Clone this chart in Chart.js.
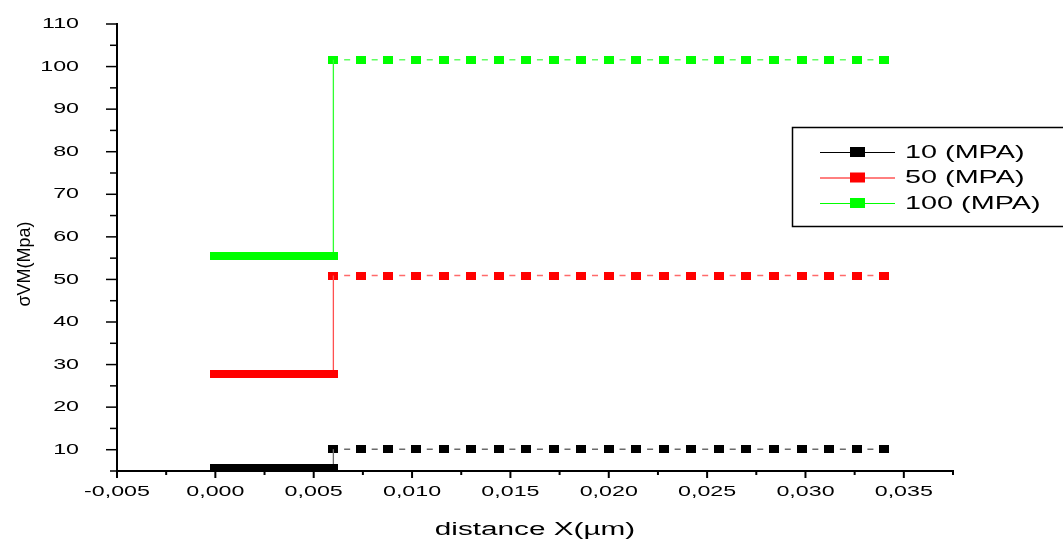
<!DOCTYPE html>
<html>
<head>
<meta charset="utf-8">
<script src="https://cdn.jsdelivr.net/npm/chart.js@4.4.1/dist/chart.umd.min.js"></script>
<style>
html, body { margin: 0; padding: 0; background: #fff; }
#wrap { width: 1063px; height: 543px; }
</style>
</head>
<body>
<div id="wrap"><canvas id="stressChart" width="1063" height="543"></canvas></div>
<script>
// positions along the sample (µm)
const xLeft = [0, 0.0005, 0.001, 0.0015, 0.002, 0.0025, 0.003, 0.0035, 0.004, 0.0045, 0.005, 0.0055, 0.006];
const xRight = [0.006, 0.0074, 0.0088, 0.0102, 0.0116, 0.013, 0.0144, 0.0158, 0.0172, 0.0186, 0.02,
                0.0214, 0.0228, 0.0242, 0.0256, 0.027, 0.0284, 0.0298, 0.0312, 0.0326, 0.034];

// von Mises stress (MPa), left zone then right zone
const s10Left = [5.6, 5.6, 5.6, 5.6, 5.6, 5.6, 5.6, 5.6, 5.6, 5.6, 5.6, 5.6, 5.6];
const s10Right = [10.1, 10.1, 10.1, 10.1, 10.1, 10.1, 10.1, 10.1, 10.1, 10.1, 10.1,
                  10.1, 10.1, 10.1, 10.1, 10.1, 10.1, 10.1, 10.1, 10.1, 10.1];
const s50Left = [27.9, 27.9, 27.9, 27.9, 27.9, 27.9, 27.9, 27.9, 27.9, 27.9, 27.9, 27.9, 27.9];
const s50Right = [50.9, 50.9, 50.9, 50.9, 50.9, 50.9, 50.9, 50.9, 50.9, 50.9, 50.9,
                  50.9, 50.9, 50.9, 50.9, 50.9, 50.9, 50.9, 50.9, 50.9, 50.9];
const s100Left = [55.5, 55.5, 55.5, 55.5, 55.5, 55.5, 55.5, 55.5, 55.5, 55.5, 55.5, 55.5, 55.5];
const s100Right = [101.6, 101.6, 101.6, 101.6, 101.6, 101.6, 101.6, 101.6, 101.6, 101.6, 101.6,
                   101.6, 101.6, 101.6, 101.6, 101.6, 101.6, 101.6, 101.6, 101.6, 101.6];

const seriesNames = ['10 (MPA)', '50 (MPA)', '100 (MPA)'];
const seriesColors = ['#000000', '#ff0000', '#00ff00'];
const stepColors = ['#707070', '#ff5050', '#30ff30'];
const dashColors = ['#6a6a6a', '#ff6a6a', '#60ff60'];

// axis ticks
const yTicks = [10, 20, 30, 40, 50, 60, 70, 80, 90, 100, 110];
const yMinor = [5, 15, 25, 35, 45, 55, 65, 75, 85, 95, 105];
const xTicks = [-0.005, 0, 0.005, 0.01, 0.015, 0.02, 0.025, 0.03, 0.035];
const xTickLabels = ['-0,005', '0,000', '0,005', '0,010', '0,015', '0,020', '0,025', '0,030', '0,035'];
const xMinor = [-0.0025, 0.0025, 0.0075, 0.0125, 0.0175, 0.0225, 0.0275, 0.0325, 0.0375];

const FONT = "'Liberation Sans', Arial, sans-serif";

function makeMarker(color, w, h) {
    const c = document.createElement('canvas');
    c.width = w;
    c.height = h;
    const g = c.getContext('2d');
    g.fillStyle = color;
    g.fillRect(0, 0, w, h);
    return c;
}

function leftData(vals, rightVals) {
    const pts = xLeft.map((x, i) => ({ x: x, y: vals[i] }));
    pts.push({ x: xRight[0], y: rightVals[0] }); // step up to the right zone
    return pts;
}

function rightData(vals) {
    return xRight.map((x, i) => ({ x: x, y: vals[i] }));
}

const lefts = [s10Left, s50Left, s100Left];
const rights = [s10Right, s50Right, s100Right];

const datasets = [];
for (let k = 0; k < 3; k++) {
    const marker = makeMarker(seriesColors[k], 10, 8);
    datasets.push({
        label: seriesNames[k] + ' left',
        data: leftData(lefts[k], rights[k]),
        borderColor: stepColors[k],
        borderWidth: 1.3,
        pointStyle: marker,
        pointRadius: (c) => c.dataIndex === xLeft.length ? 0 : 5,
        clip: false
    });
    datasets.push({
        label: seriesNames[k],
        data: rightData(rights[k]),
        borderColor: dashColors[k],
        borderWidth: 1.5,
        borderDash: [6, 21.54],
        borderDashOffset: 16.77,
        pointStyle: marker,
        pointRadius: 5,
        clip: false
    });
}

function stretchText(ctx, str, x, y, align, sx) {
    ctx.save();
    ctx.translate(x, y);
    ctx.scale(sx, 1);
    ctx.textAlign = align;
    ctx.textBaseline = 'middle';
    ctx.fillText(str, 0, 0);
    ctx.restore();
}

// ticks, labels, titles and the boxed legend
const axisDecor = {
    id: 'axisDecor',
    afterDraw(chart) {
        const ctx = chart.ctx;
        const xs = chart.scales.x;
        const ys = chart.scales.y;
        const area = chart.chartArea;
        ctx.save();
        ctx.strokeStyle = '#000';
        ctx.fillStyle = '#000';

        ctx.lineWidth = 1.5;
        yTicks.forEach(v => {
            const py = ys.getPixelForValue(v);
            ctx.beginPath(); ctx.moveTo(area.left - 11, py); ctx.lineTo(area.left, py); ctx.stroke();
        });
        yMinor.forEach(v => {
            const py = ys.getPixelForValue(v);
            ctx.beginPath(); ctx.moveTo(area.left - 7, py); ctx.lineTo(area.left, py); ctx.stroke();
        });
        ctx.lineWidth = 2;
        xTicks.forEach(v => {
            const px = xs.getPixelForValue(v);
            ctx.beginPath(); ctx.moveTo(px, area.bottom); ctx.lineTo(px, area.bottom + 7); ctx.stroke();
        });
        xMinor.forEach(v => {
            const px = xs.getPixelForValue(v);
            ctx.beginPath(); ctx.moveTo(px, area.bottom); ctx.lineTo(px, area.bottom + 4); ctx.stroke();
        });

        ctx.font = '15px ' + FONT;
        yTicks.forEach(v => stretchText(ctx, String(v), 79, ys.getPixelForValue(v), 'right', 1.55));
        xTicks.forEach((v, i) => stretchText(ctx, xTickLabels[i], xs.getPixelForValue(v), 492, 'center', 1.55));

        ctx.font = '18px ' + FONT;
        stretchText(ctx, 'distance X(µm)', (area.left + area.right) / 2, 530, 'center', 1.65);

        ctx.save();
        ctx.translate(25, 264);
        ctx.rotate(-Math.PI / 2);
        ctx.font = '18px ' + FONT;
        stretchText(ctx, 'σVM(Mpa)', 0, 0, 'center', 1.0);
        ctx.restore();

        // legend box (runs past the right edge)
        ctx.lineWidth = 1.5;
        ctx.strokeRect(792.5, 127.5, 300, 99);
        seriesNames.forEach((name, i) => {
            const ry = 152 + i * 25.5;
            ctx.strokeStyle = seriesColors[i];
            ctx.lineWidth = 1;
            ctx.beginPath(); ctx.moveTo(820, ry + 0.5); ctx.lineTo(895, ry + 0.5); ctx.stroke();
            ctx.fillStyle = seriesColors[i];
            ctx.fillRect(850, ry - 5, 15, 10);
            ctx.fillStyle = '#000';
            ctx.font = '18px ' + FONT;
            stretchText(ctx, name, 905, ry + 1, 'left', 1.6);
        });
        ctx.restore();
    }
};

const ctx = document.getElementById('stressChart').getContext('2d');
const stressChart = new Chart(ctx, {
    type: 'line',
    data: { datasets: datasets },
    options: {
        responsive: false,
        animation: false,
        layout: { padding: { left: 0, right: 110, top: 24, bottom: 0 } },
        plugins: { legend: { display: false }, tooltip: { enabled: false } },
        scales: {
            x: {
                type: 'linear',
                min: -0.005,
                max: 0.0375,
                grid: { display: false },
                border: { display: true, color: '#000', width: 2 },
                ticks: { display: false },
                afterFit: (s) => { s.height = 72; }
            },
            y: {
                type: 'linear',
                min: 5,
                max: 110,
                grid: { display: false },
                border: { display: true, color: '#000', width: 2 },
                ticks: { display: false },
                afterFit: (s) => { s.width = 117; }
            }
        }
    },
    plugins: [axisDecor]
});
</script>
</body>
</html>
